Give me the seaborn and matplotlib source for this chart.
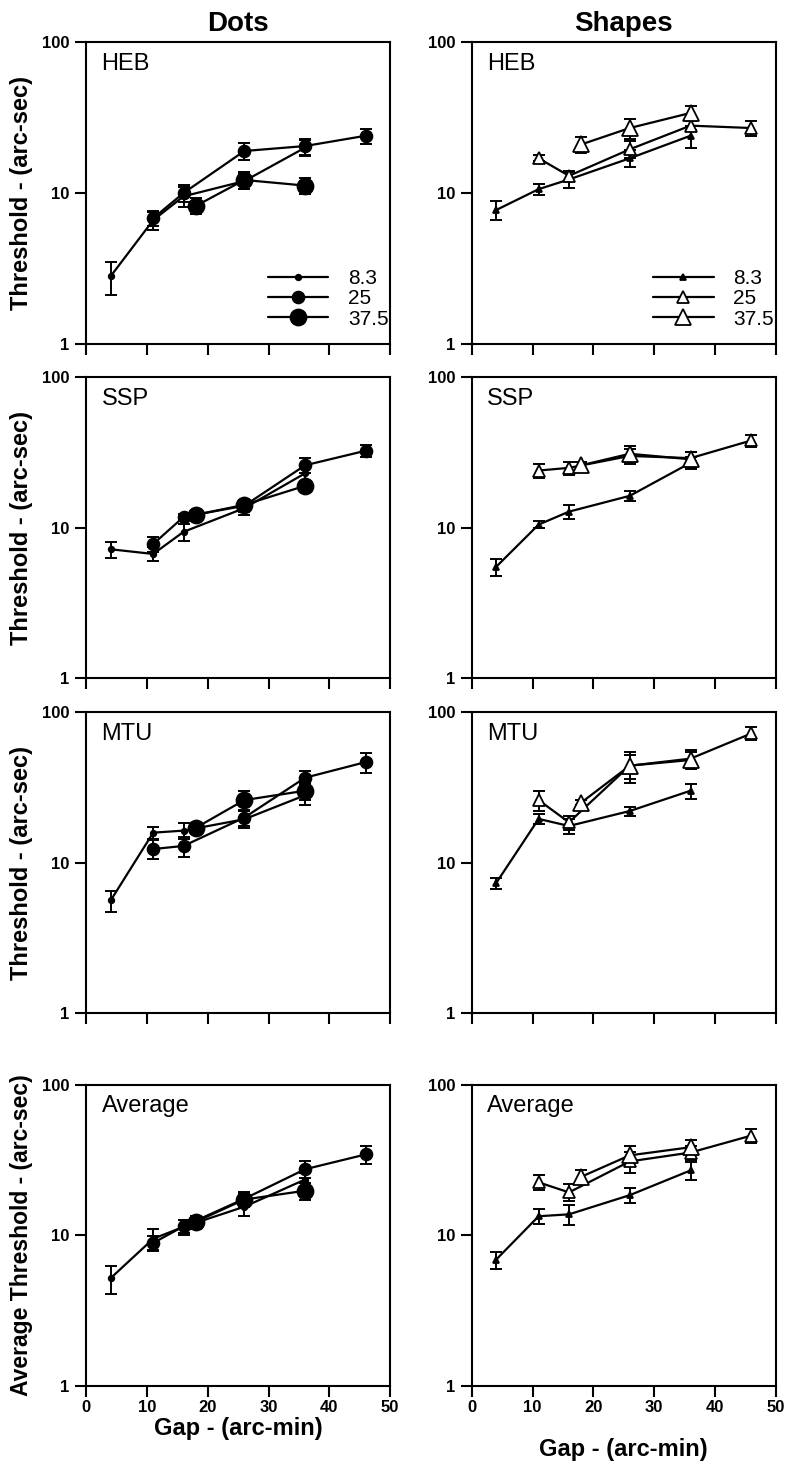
import matplotlib
matplotlib.use("Agg")
import pandas as pd
import matplotlib.pyplot as plt
from matplotlib.lines import Line2D
from matplotlib.ticker import NullLocator
import seaborn as sns

# =====================
# DATA
# =====================
# gap (arc-min) tested for each element size
gap_83 = [4, 11, 16, 26, 36]
gap_25 = [11, 16, 26, 36, 46]
gap_375 = [18, 26, 36]
sizes = ["8.3", "25", "37.5"]
subjects = ["HEB", "SSP", "MTU", "Average"]
stimuli = ["Dots", "Shapes"]

# thresholds (arc-sec) + error bars
dots_heb_83 = [2.8, 6.6, 9.5, 12.0, 20.0]
dots_heb_83_err = [0.7, 0.9, 1.4, 1.3, 2.5]
dots_heb_25 = [6.8, 10.0, 19.0, 20.5, 24.0]
dots_heb_25_err = [0.8, 1.3, 2.5, 2.5, 2.8]
dots_heb_375 = [8.2, 12.2, 11.2]
dots_heb_375_err = [1.0, 1.6, 1.4]

shapes_heb_83 = [7.7, 10.6, 12.3, 17.0, 24.0]
shapes_heb_83_err = [1.1, 0.9, 1.5, 2.2, 4.0]
shapes_heb_25 = [17.0, 13.0, 19.5, 28.0, 27.0]
shapes_heb_25_err = [0.8, 1.0, 2.5, 2.0, 3.0]
shapes_heb_375 = [21.0, 27.0, 34.0]
shapes_heb_375_err = [2.5, 4.0, 4.0]

dots_ssp_83 = [7.2, 6.7, 9.4, 13.5, 23.0]
dots_ssp_83_err = [0.9, 0.7, 1.2, 1.3, 3.0]
dots_ssp_25 = [7.8, 11.8, 14.0, 26.0, 32.5]
dots_ssp_25_err = [0.9, 0.6, 1.2, 3.0, 3.0]
dots_ssp_375 = [12.2, 14.2, 19.0]
dots_ssp_375_err = [0.6, 1.0, 1.2]

shapes_ssp_83 = [5.5, 10.5, 12.8, 16.3, 27.0]
shapes_ssp_83_err = [0.7, 0.6, 1.3, 1.3, 2.5]
shapes_ssp_25 = [24.0, 25.0, 30.0, 29.0, 38.0]
shapes_ssp_25_err = [2.5, 2.5, 3.5, 3.0, 3.5]
shapes_ssp_375 = [26.0, 31.0, 28.5]
shapes_ssp_375_err = [1.5, 4.0, 3.5]

dots_mtu_83 = [5.6, 15.8, 16.3, 19.4, 28.0]
dots_mtu_83_err = [0.9, 1.5, 2.0, 2.5, 4.0]
dots_mtu_25 = [12.3, 12.9, 19.9, 36.6, 46.5]
dots_mtu_25_err = [1.8, 2.0, 2.5, 4.0, 7.0]
dots_mtu_375 = [17.0, 26.0, 30.0]
dots_mtu_375_err = [1.0, 4.0, 4.0]

shapes_mtu_83 = [7.3, 19.5, 17.5, 22.0, 30.0]
shapes_mtu_83_err = [0.6, 1.5, 2.0, 1.5, 3.5]
shapes_mtu_25 = [26.0, 18.5, 44.0, 49.0, 72.0]
shapes_mtu_25_err = [4.0, 2.0, 10.0, 7.0, 7.0]
shapes_mtu_375 = [25.0, 44.0, 48.0]
shapes_mtu_375_err = [1.0, 8.0, 6.0]

dots_avg_83 = [5.2, 9.5, 11.4, 15.5, 23.5]
dots_avg_83_err = [1.1, 1.5, 1.3, 2.0, 2.5]
dots_avg_25 = [8.9, 11.5, 17.5, 27.5, 34.5]
dots_avg_25_err = [1.0, 1.2, 2.0, 3.5, 4.5]
dots_avg_375 = [12.3, 17.3, 19.8]
dots_avg_375_err = [1.2, 1.8, 2.5]

shapes_avg_83 = [6.9, 13.4, 13.8, 18.5, 27.0]
shapes_avg_83_err = [0.9, 1.5, 2.0, 2.0, 3.5]
shapes_avg_25 = [22.5, 19.3, 31.0, 35.5, 46.0]
shapes_avg_25_err = [2.5, 2.5, 5.0, 4.0, 5.0]
shapes_avg_375 = [24.5, 34.0, 38.5]
shapes_avg_375_err = [2.5, 5.0, 4.5]

# =====================
# LONG TABLE
# =====================
gaps = {"8.3": gap_83, "25": gap_25, "37.5": gap_375}
series = {
    ("Dots", "HEB"): [(dots_heb_83, dots_heb_83_err), (dots_heb_25, dots_heb_25_err), (dots_heb_375, dots_heb_375_err)],
    ("Shapes", "HEB"): [(shapes_heb_83, shapes_heb_83_err), (shapes_heb_25, shapes_heb_25_err), (shapes_heb_375, shapes_heb_375_err)],
    ("Dots", "SSP"): [(dots_ssp_83, dots_ssp_83_err), (dots_ssp_25, dots_ssp_25_err), (dots_ssp_375, dots_ssp_375_err)],
    ("Shapes", "SSP"): [(shapes_ssp_83, shapes_ssp_83_err), (shapes_ssp_25, shapes_ssp_25_err), (shapes_ssp_375, shapes_ssp_375_err)],
    ("Dots", "MTU"): [(dots_mtu_83, dots_mtu_83_err), (dots_mtu_25, dots_mtu_25_err), (dots_mtu_375, dots_mtu_375_err)],
    ("Shapes", "MTU"): [(shapes_mtu_83, shapes_mtu_83_err), (shapes_mtu_25, shapes_mtu_25_err), (shapes_mtu_375, shapes_mtu_375_err)],
    ("Dots", "Average"): [(dots_avg_83, dots_avg_83_err), (dots_avg_25, dots_avg_25_err), (dots_avg_375, dots_avg_375_err)],
    ("Shapes", "Average"): [(shapes_avg_83, shapes_avg_83_err), (shapes_avg_25, shapes_avg_25_err), (shapes_avg_375, shapes_avg_375_err)],
}

rows = []
for (stim, subj), lst in series.items():
    for size, (vals, errs) in zip(sizes, lst):
        for g, v, e in zip(gaps[size], vals, errs):
            rows.append(dict(stim=stim, subject=subj, size=size, gap=g, thr=v, err=e))
df = pd.DataFrame(rows)

# =====================
# PLOT
# =====================
sns.set_style("ticks")
plt.rcParams["font.family"] = ["Liberation Sans", "DejaVu Sans"]
plt.rcParams.update({"text.color": "black", "axes.labelcolor": "black",
                     "xtick.color": "black", "ytick.color": "black"})

# marker, size, face colour per element size
marker_style = {
    "Dots": {"8.3": ("o", 4, "black"), "25": ("o", 8.5, "black"), "37.5": ("o", 11.5, "black")},
    "Shapes": {"8.3": ("^", 4.5, "black"), "25": ("^", 8, "white"), "37.5": ("^", 12, "white")},
}

fig = plt.figure(figsize=(7.85, 14.62), dpi=100)
col_left = {"Dots": 0.110, "Shapes": 0.601}
col_w = 0.387
row_bottom = [0.765, 0.536, 0.307, 0.052]
row_h = 0.206

for r, subj in enumerate(subjects):
    for stim in stimuli:
        ax = fig.add_axes([col_left[stim], row_bottom[r], col_w, row_h])
        for size in sizes:
            d = df[(df.stim == stim) & (df.subject == subj) & (df["size"] == size)]
            m, ms, fc = marker_style[stim][size]
            ax.errorbar(d.gap, d.thr, yerr=d.err, fmt="none", ecolor="black",
                        elinewidth=1.4, capsize=4, capthick=1.4, zorder=2)
            sns.lineplot(data=d, x="gap", y="thr", ax=ax, color="black",
                         linewidth=1.6, marker=m, markersize=ms,
                         markerfacecolor=fc, markeredgecolor="black",
                         markeredgewidth=1.3, estimator=None, sort=False,
                         errorbar=None, legend=False, zorder=3)

        ax.set_yscale("log")
        ax.set_ylim(1, 100)
        ax.set_xlim(0, 50)
        ax.set_yticks([1, 10, 100])
        ax.set_yticklabels(["1", "10", "100"], fontweight="bold")
        ax.yaxis.set_minor_locator(NullLocator())
        ax.set_xticks([0, 10, 20, 30, 40, 50])
        ax.tick_params(direction="out", length=8, width=1.5, labelsize=12, pad=4)
        for sp in ax.spines.values():
            sp.set_linewidth(1.5)
            sp.set_color("black")

        if r == len(subjects) - 1:
            ax.set_xticklabels(["0", "10", "20", "30", "40", "50"], fontweight="bold")
            ax.tick_params(axis="x", pad=2)
            ax.set_xlabel("Gap - (arc-min)", fontsize=17, fontweight="bold")
            ax.xaxis.set_label_coords(0.5, -0.103 if stim == "Dots" else -0.172)
        else:
            ax.set_xticklabels([])
            ax.set_xlabel("")

        if stim == "Dots":
            lab = "Average Threshold - (arc-sec)" if subj == "Average" else "Threshold - (arc-sec)"
            ax.set_ylabel(lab, fontsize=16.5 if subj == "Average" else 17,
                          fontweight="bold")
            ax.yaxis.set_label_coords(-0.175, 0.5)
        else:
            ax.set_ylabel("")

        ax.text(0.05, 0.965, subj, transform=ax.transAxes, ha="left", va="top",
                fontsize=17)

        if subj == "HEB":
            handles = []
            for size in sizes:
                m, ms, fc = marker_style[stim][size]
                handles.append(Line2D([], [], color="black", linewidth=1.6, marker=m,
                                      markersize=ms, markerfacecolor=fc,
                                      markeredgecolor="black", markeredgewidth=1.3))
            ax.legend(handles, sizes, loc="lower right", bbox_to_anchor=(0.995, 0.05),
                      frameon=False, fontsize=15, handlelength=2.9,
                      handletextpad=0.95, labelspacing=0.05, borderpad=0,
                      borderaxespad=0)

        if r == 0:
            ax.set_title(stim, fontsize=20, fontweight="bold", pad=8)

fig.savefig("out.png", dpi=100)
